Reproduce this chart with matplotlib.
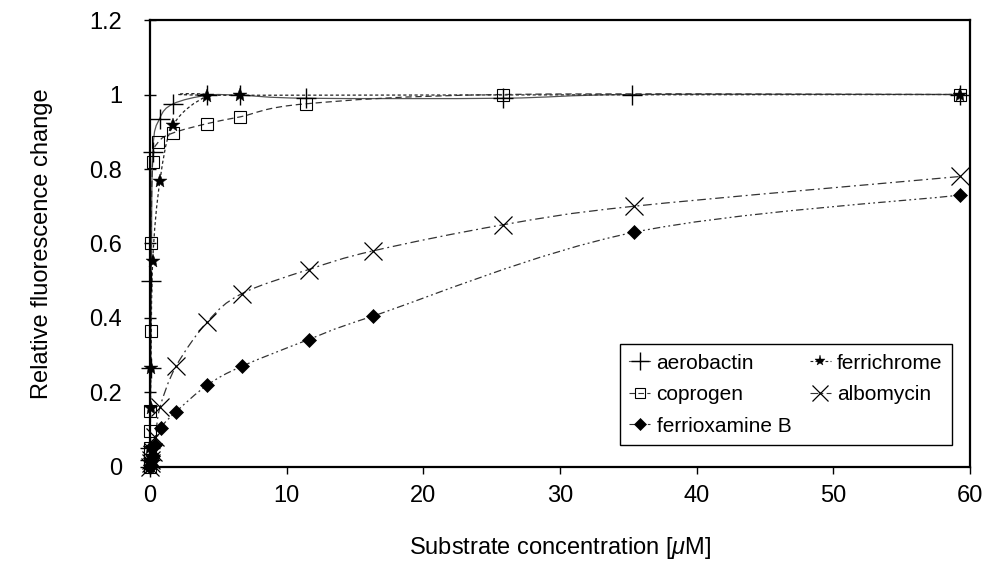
import numpy as np
import matplotlib
matplotlib.use('Agg')
import matplotlib.pyplot as plt
from matplotlib.path import Path
from matplotlib.patches import PathPatch
from matplotlib.lines import Line2D
from matplotlib.ticker import FuncFormatter

plt.rcParams['font.family'] = ['Liberation Sans', 'DejaVu Sans']
plt.rcParams['mathtext.fontset'] = 'custom'
plt.rcParams['mathtext.it'] = 'Liberation Sans:italic'

# 데이터
aero_x = [0, 0.01, 0.02, 0.05, 0.1, 0.2, 0.7, 1.7, 4.2, 6.6, 11.4, 25.8, 35.3, 59.3]
aero_y = [0, 0.02, 0.05, 0.265, 0.5, 0.846, 0.935, 0.975, 0.998, 0.998, 0.99, 0.99, 1.0, 1.0]

ferrich_x = [0, 0.01, 0.02, 0.04, 0.07, 0.2, 0.73, 1.7, 4.2, 6.6, 59.3]
ferrich_y = [0, 0.02, 0.05, 0.158, 0.265, 0.553, 0.768, 0.918, 0.996, 0.998, 1.0]

copro_x = [0, 0.005, 0.01, 0.02, 0.03, 0.05, 0.08, 0.2, 0.6, 1.7, 4.2, 6.6, 11.4, 25.8, 59.3]
copro_y = [0, 0.02, 0.05, 0.097, 0.15, 0.365, 0.60, 0.82, 0.872, 0.897, 0.922, 0.94, 0.975, 1.0, 1.0]

albo_x = [0, 0.05, 0.1, 0.2, 0.4, 0.73, 1.9, 4.2, 6.7, 11.6, 16.3, 25.8, 35.4, 59.3]
albo_y = [0, 0.01, 0.02, 0.04, 0.08, 0.16, 0.27, 0.39, 0.465, 0.53, 0.58, 0.65, 0.70, 0.78]

fxb_x = [0, 0.05, 0.1, 0.2, 0.4, 0.8, 1.9, 4.2, 6.7, 11.6, 16.3, 35.4, 59.3]
fxb_y = [0, 0.005, 0.015, 0.03, 0.06, 0.105, 0.148, 0.22, 0.27, 0.342, 0.405, 0.63, 0.73]

names = ['aerobactin', 'ferrichrome', 'coprogen', 'albomycin', 'ferrioxamine B']


def smooth_path(x, y):
    """엑셀식 부드러운 선 (베지어)"""
    p = np.column_stack([x, y]).astype(float)
    n = len(p)
    verts = [p[0]]; codes = [Path.MOVETO]
    for i in range(n - 1):
        p0 = p[max(i - 1, 0)]; p1 = p[i]; p2 = p[i + 1]; p3 = p[min(i + 2, n - 1)]
        verts += [p1 + (p2 - p0) / 6, p2 - (p3 - p1) / 6, p2]
        codes += [Path.CURVE4] * 3
    return Path(verts, codes)


series = [
    (aero_x, aero_y, dict(marker='+', ms=14, mew=1.0, mfc='none'), '-', '#555555'),
    (ferrich_x, ferrich_y, dict(marker='*', ms=10, mew=0.3, mfc='black'), (0, (2.5, 2)), '#222222'),
    (copro_x, copro_y, dict(marker='s', ms=8.5, mew=0.8, mfc='none'), (0, (5, 3)), '#333333'),
    (albo_x, albo_y, dict(marker='x', ms=12.5, mew=0.9, mfc='none'), (0, (7, 3, 1.5, 3)), '#333333'),
    (fxb_x, fxb_y, dict(marker='D', ms=7, mew=0.5, mfc='black'), (0, (6, 2.5, 1.5, 2.5, 1.5, 2.5)), '#333333'),
]
# 범례용 마커 크기 (본문보다 작게)
leg_ms = [13, 8, 7, 12, 6]

fig = plt.figure(figsize=(9.88, 5.67), dpi=100)
ax = fig.add_axes([0.1518, 0.1764, 0.8300, 0.7883])

handles = []
for (x, y, mk, ls, lc), name, lms in zip(series, names, leg_ms):
    ax.add_patch(PathPatch(smooth_path(x, y), fill=False, lw=0.9, ls=ls, ec=lc, zorder=2))
    ax.plot(x, y, ls='none', color='black', mec='black', zorder=3, clip_on=False, **mk)
    hk = dict(mk, ms=lms)
    handles.append(Line2D([], [], ls=ls, lw=0.8, color=lc, mec='black', **hk))

ax.set_xlim(0, 60)
ax.set_ylim(0, 1.2)
ax.set_xticks(np.arange(0, 61, 10))
ax.set_yticks(np.arange(0, 1.21, 0.2))
ax.yaxis.set_major_formatter(FuncFormatter(lambda v, p: f'{v:g}'))
ax.tick_params(axis='both', labelsize=17, width=1, length=5, color='black')
ax.tick_params(axis='x', direction='out', pad=8)
ax.tick_params(axis='y', direction='inout', length=8, pad=16)
for s in ax.spines.values():
    s.set_linewidth(1.6)

ax.set_xlabel(r'Substrate concentration [$\mathit{\mu}$M]', fontsize=17, labelpad=20)
ax.set_ylabel('Relative fluorescence change', fontsize=17, labelpad=26)

# 범례: 행 순서대로 보이도록 열 우선 배치
order = [0, 2, 4, 1, 3]
leg = ax.legend([handles[i] for i in order], [names[i] for i in order], ncol=2,
                loc='lower right', bbox_to_anchor=(0.978, 0.049), borderaxespad=0,
                fontsize=15, frameon=True, fancybox=False, edgecolor='black',
                framealpha=1, handlelength=1.0, handletextpad=0.3, columnspacing=0.9,
                labelspacing=0.6, borderpad=0.45)
leg.get_frame().set_linewidth(1.0)

fig.savefig('out.png', dpi=100)
